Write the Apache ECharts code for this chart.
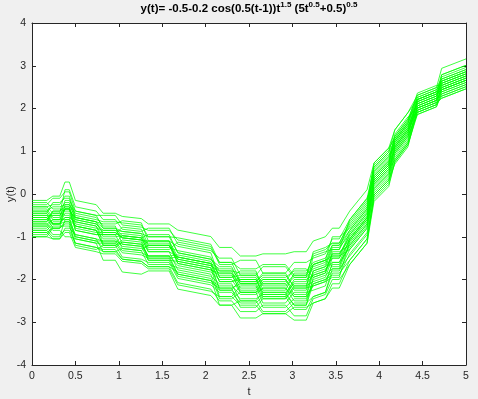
<!DOCTYPE html>
<html>
<head>
<meta charset="utf-8">
<script src="https://cdn.jsdelivr.net/npm/echarts@6/dist/echarts.min.js"></script>
<style>
body{margin:0;background:#f0f0f0;}
#psLine{width:478px;height:399px;}
</style>
</head>
<body>
<div id="psLine"></div>
<script>
// plateau start / end times (shared by every path)
var segStart = [0, 0.24, 0.38, 0.50, 0.82, 1.04, 1.34, 1.68, 2.16, 2.40, 2.66, 3.02, 3.24, 3.46, 3.66, 3.94, 4.18, 4.44, 4.72];
var segEnd   = [0.17, 0.32, 0.43, 0.74, 0.96, 1.26, 1.58, 2.06, 2.30, 2.58, 2.92, 3.16, 3.38, 3.54, 3.86, 4.11, 4.33, 4.66, 5.0];
// rise of the bundle inside each plateau
var segDrift = [0, 0, 0, -0.1, 0, -0.05, 0, -0.15, 0, 0, 0, 0, 0.1, 0, 0.5, 0.35, 0.4, 0.18, 0.22];
var xTicks = [0, 0.5, 1, 1.5, 2, 2.5, 3, 3.5, 4, 4.5, 5];
var yTicks = [-4, -3, -2, -1, 0, 1, 2, 3, 4];

// mean level of each path on each plateau
var p1  = [-0.15,-0.05,0.28,-0.2,-0.45,-0.55,-0.7,-0.92,-1.25,-1.45,-1.4,-1.35,-1.05,-0.8,-0.15,0.9,1.7,2.4,3.05];
var p2  = [-0.3,-0.45,0.1,-0.35,-0.6,-0.85,-0.8,-1.25,-1.5,-1.9,-1.7,-1.95,-1.3,-1.15,-0.4,0.6,1.55,2.2,2.85];
var p3  = [-0.45,-0.2,-0.1,-0.6,-0.7,-0.65,-1.1,-1.3,-1.95,-1.8,-2.25,-1.85,-1.6,-1.0,-0.55,0.75,1.3,2.3,2.6];
var p4  = [-0.2,-0.35,-0.4,-0.6,-0.95,-0.95,-1.3,-1.2,-1.6,-2.05,-1.85,-2.2,-1.4,-1.3,-0.35,0.5,1.6,2.1,2.9];
var p5  = [-0.55,-0.8,-0.25,-0.5,-0.75,-1.2,-1.1,-1.7,-1.85,-2.3,-2.05,-1.75,-1.9,-1.35,-0.95,0.6,1.2,2.25,2.55];
var p6  = [-0.65,-0.4,-0.3,-0.85,-0.9,-1.05,-1.5,-1.55,-2.25,-2.0,-2.4,-2.05,-1.6,-1.7,-0.8,0.3,1.4,2.0,2.65];
var p7  = [-0.5,-0.7,-0.55,-0.7,-1.15,-1.0,-1.35,-1.85,-2.1,-2.5,-2.3,-2.6,-1.9,-1.45,-1.05,0.45,1.1,2.3,2.5];
var p8  = [-0.75,-0.6,-0.35,-0.9,-0.95,-1.3,-1.2,-1.65,-2.4,-2.15,-2.55,-2.3,-2.2,-1.6,-1.0,0.2,1.3,2.1,2.7];
var p9  = [-0.85,-1.0,-0.6,-0.8,-1.2,-1.1,-1.55,-2.0,-2.2,-2.65,-2.45,-2.2,-2.1,-1.95,-0.85,0.4,1.0,2.15,2.45];
var p10 = [-0.95,-0.75,-0.75,-1.2,-1.3,-1.55,-1.7,-1.9,-2.6,-2.5,-2.75,-2.55,-2.35,-1.75,-1.2,0.1,1.15,1.95,2.55];
var p11 = [-0.7,-0.85,-1.0,-1.1,-1.55,-1.85,-1.8,-2.3,-2.6,-2.9,-2.8,-2.95,-2.5,-2.2,-1.4,0.15,0.9,2.05,2.35];
var p12 = [-0.4,-0.6,-0.35,-0.9,-0.95,-0.8,-1.2,-1.6,-1.8,-2.2,-2.0,-2.35,-1.75,-1.3,-0.6,0.8,1.45,2.35,2.75];
var p13 = [-0.6,-0.45,-0.5,-0.8,-1.2,-1.15,-1.45,-1.5,-2.05,-1.95,-2.35,-2.0,-1.85,-1.4,-0.75,0.55,1.45,2.2,2.8];
var p14 = [-0.35,-0.55,-0.15,-0.45,-0.8,-1.0,-0.95,-1.45,-1.7,-2.1,-1.95,-1.8,-1.55,-1.2,-0.5,0.9,1.5,2.45,2.65];
var p15 = [-0.8,-0.65,-0.55,-1.05,-1.1,-1.35,-1.45,-1.95,-2.15,-2.35,-2.2,-2.5,-1.95,-1.75,-0.9,0.35,1.25,2.05,2.6];
var p16 = [-0.9,-1.05,-0.8,-1.0,-1.35,-1.3,-1.65,-1.8,-2.45,-2.3,-2.65,-2.45,-2.05,-1.9,-1.15,0.25,1.05,2.15,2.4];
var p17 = [-1.0,-0.8,-0.7,-1.25,-1.2,-1.5,-1.6,-2.05,-2.3,-2.55,-2.4,-2.7,-2.35,-1.85,-1.3,0.05,0.95,1.95,2.45];
var p18 = [-0.25,-0.1,0.05,-0.45,-0.5,-0.75,-0.85,-1.15,-1.65,-1.55,-1.85,-1.6,-1.45,-1.05,-0.35,0.8,1.7,2.3,2.9];
var p19 = [-0.55,-0.7,-0.35,-0.65,-0.9,-1.05,-1.1,-1.55,-1.75,-2.05,-1.9,-2.15,-1.6,-1.45,-0.65,0.65,1.35,2.25,2.7];
var p20 = [-0.7,-0.6,-0.6,-1.0,-1.1,-1.2,-1.55,-1.65,-2.2,-2.1,-2.45,-2.15,-2.0,-1.5,-0.85,0.45,1.3,2.1,2.55];
var p21 = [-0.45,-0.7,-0.45,-0.8,-1.05,-1.25,-1.2,-1.7,-1.9,-2.25,-2.1,-2.4,-1.8,-1.6,-0.8,0.5,1.2,2.25,2.65];
var p22 = [-0.6,-0.4,-0.2,-0.65,-0.85,-0.9,-1.25,-1.4,-1.95,-1.9,-2.15,-1.95,-1.7,-1.25,-0.7,0.7,1.4,2.15,2.75];
var p23 = [-0.85,-0.7,-0.65,-1.1,-1.15,-1.4,-1.5,-1.95,-2.25,-2.45,-2.35,-2.6,-2.05,-1.8,-1.05,0.3,1.15,2.0,2.5];
var p24 = [-0.3,-0.25,-0.05,-0.55,-0.65,-0.7,-1.0,-1.1,-1.6,-1.75,-1.65,-1.9,-1.35,-1.15,-0.45,0.85,1.55,2.4,2.8];
var p25 = [-0.75,-0.95,-0.85,-1.2,-1.35,-1.55,-1.7,-2.15,-2.5,-2.75,-2.6,-2.85,-2.4,-2.0,-1.4,0.0,0.95,2.0,2.4];
var p26 = [-0.5,-0.5,-0.3,-0.75,-0.85,-1.05,-1.15,-1.6,-1.85,-2.1,-2.0,-2.25,-1.75,-1.5,-0.7,0.55,1.45,2.3,2.7];
var p27 = [-0.65,-0.5,-0.35,-0.7,-1.0,-1.0,-1.35,-1.55,-2.05,-2.0,-2.3,-2.1,-1.85,-1.4,-0.8,0.5,1.35,2.2,2.6];
var p28 = [-0.9,-0.8,-0.65,-1.05,-1.25,-1.15,-1.45,-1.75,-2.0,-2.3,-2.2,-2.4,-2.1,-1.65,-0.95,0.4,1.25,2.1,2.55];
var p29 = [-0.4,-0.3,-0.25,-0.6,-0.8,-0.9,-1.0,-1.45,-1.8,-1.85,-2.1,-1.9,-1.65,-1.2,-0.6,0.7,1.5,2.35,2.75];
var p30 = [-1.0,-1.05,-0.9,-1.3,-1.4,-1.6,-1.75,-2.2,-2.4,-2.6,-2.8,-2.65,-2.5,-2.1,-1.3,0.15,1.0,2.05,2.35];

var paths = [p1,p2,p3,p4,p5,p6,p7,p8,p9,p10,p11,p12,p13,p14,p15,p16,p17,p18,p19,p20,p21,p22,p23,p24,p25,p26,p27,p28,p29,p30];

var psLineChar;
var axisColor = '#262626';

initChartInformation();
loadChartInternalData();

function initChartInformation(){
	psLineChar = echarts.init(document.getElementById('psLine'), null, {renderer: 'canvas'});
}
// each plateau gives two points: start and end
function buildPath(levels){
	var pts = [];
	for (var i = 0; i < levels.length; i++) {
		pts.push([segStart[i], levels[i] - segDrift[i] / 2]);
		pts.push([segEnd[i], levels[i] + segDrift[i] / 2]);
	}
	return pts;
}
function makeAxis(pos, ticks, showLabel){
	return {
		type: 'value',
		position: pos,
		min: ticks[0],
		max: ticks[ticks.length - 1],
		interval: ticks[1] - ticks[0],
		axisLine: {show: true, onZero: false, lineStyle: {color: axisColor, width: 1}},
		axisTick: {show: true, inside: true, length: 4, lineStyle: {color: axisColor}},
		axisLabel: {show: showLabel, color: axisColor, fontSize: 10.5, fontFamily: 'Liberation Sans', margin: 6},
		splitLine: {show: false}
	};
}
function loadChartInternalData(){
	var series = [];
	for (var i = 0; i < paths.length; i++) {
		series.push({
			type: 'line',
			data: buildPath(paths[i]),
			showSymbol: false,
			symbol: 'none',
			silent: true,
			lineStyle: {color: '#00ff00', width: 1, opacity: 0.75}
		});
	}
	var xBottom = makeAxis('bottom', xTicks, true);
	xBottom.name = 't';
	xBottom.nameLocation = 'middle';
	xBottom.nameGap = 21;
	xBottom.nameTextStyle = {color: axisColor, fontSize: 11, fontFamily: 'Liberation Sans'};
	var yLeft = makeAxis('left', yTicks, true);
	yLeft.name = 'y(t)';
	yLeft.nameLocation = 'middle';
	yLeft.nameGap = 16;
	yLeft.nameMoveOverlap = false;
	yLeft.nameTextStyle = {color: axisColor, fontSize: 11, fontFamily: 'Liberation Sans'};
	var option = {
		animation: false,
		backgroundColor: '#f0f0f0',
		graphic: [{
			type: 'text',
			x: 249,
			y: 17,
			silent: true,
			style: {
				text: 'y(t)= -0.5-0.2 cos(0.5(t-1))t{s|1.5} (5t{s|0.5}+0.5){s|0.5}',
				align: 'center',
				verticalAlign: 'bottom',
				fill: '#000',
				font: 'bold 11.5px "Liberation Sans"',
				rich: {
					s: {fontSize: 8, fontWeight: 'bold', fontFamily: 'Liberation Sans', verticalAlign: 'top', lineHeight: 16, fill: '#000'}
				},
				lineHeight: 16
			}
		}],
		grid: {left: 32, right: 12, top: 23, bottom: 34, containLabel: false, outerBoundsMode: 'none', show: true, backgroundColor: '#ffffff', borderWidth: 0},
		xAxis: [xBottom, makeAxis('top', xTicks, false)],
		yAxis: [yLeft, makeAxis('right', yTicks, false)],
		series: series
	};
	psLineChar.setOption(option, true);
}
</script>
</body>
</html>
